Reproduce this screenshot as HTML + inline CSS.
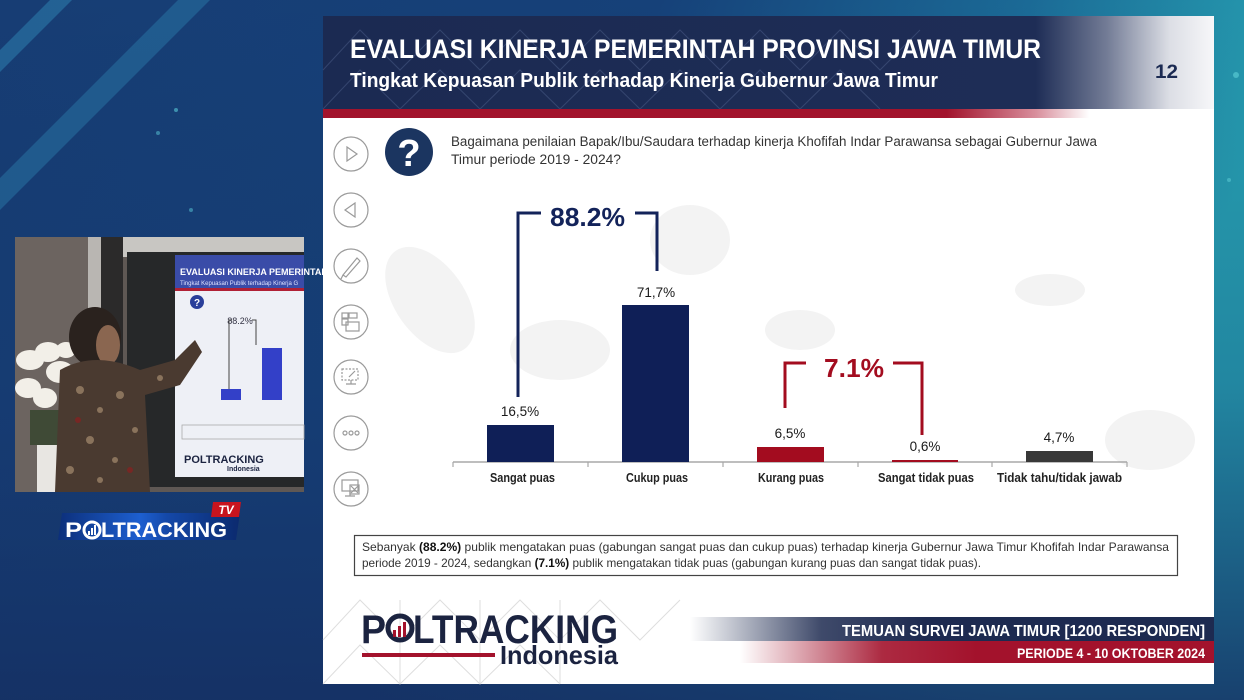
<!DOCTYPE html>
<html><head><meta charset="utf-8">
<style>
html,body{margin:0;padding:0;background:#163b72;}
svg{display:block;}
text{font-family:"Liberation Sans",sans-serif;}
</style></head>
<body>
<svg width="1244" height="700" viewBox="0 0 1244 700" xmlns="http://www.w3.org/2000/svg">
<defs>
  <linearGradient id="bg" x1="0" y1="0" x2="1" y2="0.25">
    <stop offset="0" stop-color="#173d74"/>
    <stop offset="0.5" stop-color="#164179"/>
    <stop offset="0.78" stop-color="#1b6a96"/>
    <stop offset="1" stop-color="#27a2b3"/>
  </linearGradient>
  <linearGradient id="bgv" x1="0" y1="0" x2="0" y2="1">
    <stop offset="0" stop-color="#10305e" stop-opacity="0"/>
    <stop offset="0.55" stop-color="#13346a" stop-opacity="0.25"/>
    <stop offset="1" stop-color="#152f62" stop-opacity="0.85"/>
  </linearGradient>
  <linearGradient id="hdr" x1="323" y1="0" x2="1214" y2="0" gradientUnits="userSpaceOnUse">
    <stop offset="0" stop-color="#1b2a52"/>
    <stop offset="0.8" stop-color="#1e2d56"/>
    <stop offset="0.88" stop-color="#737c96"/>
    <stop offset="0.95" stop-color="#dcdee5"/>
    <stop offset="1" stop-color="#f7f7f9"/>
  </linearGradient>
  <linearGradient id="redbar" x1="323" y1="0" x2="1214" y2="0" gradientUnits="userSpaceOnUse">
    <stop offset="0" stop-color="#a2132c"/>
    <stop offset="0.7" stop-color="#a2132c"/>
    <stop offset="0.8" stop-color="#d88e9c"/>
    <stop offset="0.86" stop-color="#ffffff"/>
  </linearGradient>
  <linearGradient id="ftnavy" x1="690" y1="0" x2="1214" y2="0" gradientUnits="userSpaceOnUse">
    <stop offset="0" stop-color="#1d2a50" stop-opacity="0"/>
    <stop offset="0.25" stop-color="#1d2a50" stop-opacity="0.85"/>
    <stop offset="0.45" stop-color="#1d2a50"/>
    <stop offset="1" stop-color="#1d2a50"/>
  </linearGradient>
  <linearGradient id="ftred" x1="740" y1="0" x2="1214" y2="0" gradientUnits="userSpaceOnUse">
    <stop offset="0" stop-color="#a3122c" stop-opacity="0"/>
    <stop offset="0.3" stop-color="#a3122c" stop-opacity="0.9"/>
    <stop offset="0.5" stop-color="#a3122c"/>
    <stop offset="1" stop-color="#a3122c"/>
  </linearGradient>
  <linearGradient id="tvbox" x1="0" y1="0" x2="1" y2="0">
    <stop offset="0" stop-color="#0c2f7a"/>
    <stop offset="0.45" stop-color="#1d5fd0"/>
    <stop offset="0.6" stop-color="#1448a8"/>
    <stop offset="1" stop-color="#0b2a6e"/>
  </linearGradient>
</defs>

<!-- Background -->
<rect x="0" y="0" width="1244" height="700" fill="url(#bg)"/>
<rect x="0" y="0" width="1244" height="700" fill="url(#bgv)"/>
<polygon points="0,50 50,0 72,0 0,72" fill="#2d7fae" opacity="0.55"/>
<polygon points="0,178 178,0 210,0 0,210" fill="#2d7fae" opacity="0.45"/>
<circle cx="176" cy="110" r="2" fill="#4fb3c8" opacity="0.7"/>
<circle cx="158" cy="133" r="2" fill="#4fb3c8" opacity="0.6"/>
<circle cx="191" cy="210" r="2" fill="#4fb3c8" opacity="0.6"/>
<circle cx="1236" cy="75" r="3" fill="#5fd0d8" opacity="0.6"/>
<circle cx="1229" cy="180" r="2" fill="#5fd0d8" opacity="0.5"/>

<!-- Slide -->
<rect x="323" y="16" width="891" height="668" fill="#ffffff"/>
<!-- faint map -->
<g fill="#f3f3f3">
  <ellipse cx="430" cy="300" rx="35" ry="60" transform="rotate(-35 430 300)"/>
  <ellipse cx="560" cy="350" rx="50" ry="30"/>
  <ellipse cx="690" cy="240" rx="40" ry="35"/>
  <ellipse cx="800" cy="330" rx="35" ry="20"/>
  <ellipse cx="1150" cy="440" rx="45" ry="30"/>
  <ellipse cx="1050" cy="290" rx="35" ry="16"/>
</g>

<!-- Header -->
<rect x="323" y="16" width="891" height="93" fill="url(#hdr)"/>
<g stroke="#4d5f8a" stroke-width="1" fill="none" opacity="0.5">
  <polyline points="323,70 360,30 400,70 440,30 480,70 520,30 560,70 600,30 640,70 680,30 720,70 760,30 800,70 840,30 880,70 920,30"/>
  <polyline points="323,109 360,70 400,109 440,70 480,109 520,70 560,109 600,70 640,109 680,70 720,109 760,70 800,109 840,70 880,109"/>
</g>
<text x="350" y="58" font-size="27" font-weight="bold" fill="#ffffff" textLength="691" lengthAdjust="spacingAndGlyphs">EVALUASI KINERJA PEMERINTAH PROVINSI JAWA TIMUR</text>
<text x="350" y="87" font-size="20" font-weight="bold" fill="#ffffff" textLength="588" lengthAdjust="spacingAndGlyphs">Tingkat Kepuasan Publik terhadap Kinerja Gubernur Jawa Timur</text>
<text x="1155" y="78" font-size="19" font-weight="bold" fill="#1b2a52" textLength="23" lengthAdjust="spacingAndGlyphs">12</text>
<rect x="323" y="109" width="891" height="9" fill="url(#redbar)"/>

<!-- side icons -->
<g fill="none" stroke="#9a9a9a" stroke-width="1.2">
  <circle cx="351" cy="154" r="17"/>
  <circle cx="351" cy="210" r="17"/>
  <circle cx="351" cy="266" r="17"/>
  <circle cx="351" cy="322" r="17"/>
  <circle cx="351" cy="377" r="17"/>
  <circle cx="351" cy="433" r="17"/>
  <circle cx="351" cy="489" r="17"/>
  <polygon points="347,147 357,154 347,161"/>
  <polygon points="355,203 345,210 355,217"/>
  <path d="M343,275 L357,258 L360,261 L346,277 Z M343,275 L341,279"/>
  <rect x="342" y="313" width="6" height="5"/><rect x="349" y="313" width="8" height="5"/><rect x="342" y="319" width="6" height="6"/><rect x="346" y="322" width="13" height="9"/>
  <rect x="342" y="369" width="16" height="11" stroke-dasharray="2 1.5"/><path d="M346,384 h10 M351,380 v4 M349,377 l6,-6"/>
  <circle cx="345" cy="433" r="2"/><circle cx="351" cy="433" r="2"/><circle cx="357" cy="433" r="2"/>
  <rect x="342" y="480" width="16" height="11"/><path d="M350,491 v5 M345,496 h10"/><rect x="350" y="485" width="9" height="9"/><path d="M351,486 l7,7 M358,486 l-7,7"/>
</g>

<!-- question icon -->
<circle cx="409" cy="152" r="24" fill="#1b3560"/>
<text x="409" y="166" font-size="38" font-weight="bold" fill="#ffffff" text-anchor="middle">?</text>
<text x="451" y="146" font-size="13.5" fill="#333333" textLength="646" lengthAdjust="spacingAndGlyphs">Bagaimana penilaian Bapak/Ibu/Saudara terhadap kinerja Khofifah Indar Parawansa sebagai Gubernur Jawa</text>
<text x="451" y="164" font-size="13.5" fill="#333333" textLength="170" lengthAdjust="spacingAndGlyphs">Timur  periode 2019 - 2024?</text>

<!-- Chart -->
<line x1="453" y1="462" x2="1127" y2="462" stroke="#a8a8a8" stroke-width="1.5"/>
<g stroke="#a8a8a8" stroke-width="1.2">
  <line x1="453" y1="462" x2="453" y2="467"/>
  <line x1="588" y1="462" x2="588" y2="467"/>
  <line x1="723" y1="462" x2="723" y2="467"/>
  <line x1="858" y1="462" x2="858" y2="467"/>
  <line x1="992" y1="462" x2="992" y2="467"/>
  <line x1="1127" y1="462" x2="1127" y2="467"/>
</g>
<rect x="487" y="425" width="67" height="37" fill="#0f1f57"/>
<rect x="622" y="305" width="67" height="157" fill="#0f1f57"/>
<rect x="757" y="447" width="67" height="15" fill="#a30c1f"/>
<rect x="892" y="460" width="66" height="2" fill="#a30c1f"/>
<rect x="1026" y="451" width="67" height="11" fill="#383838"/>

<g font-size="13.5" fill="#1a1a1a" text-anchor="middle">
  <text x="520" y="416">16,5%</text>
  <text x="656" y="297">71,7%</text>
  <text x="790" y="438">6,5%</text>
  <text x="925" y="451">0,6%</text>
  <text x="1059" y="442">4,7%</text>
</g>
<g font-size="12.5" font-weight="bold" fill="#222222">
  <text x="490" y="482" textLength="65" lengthAdjust="spacingAndGlyphs">Sangat puas</text>
  <text x="626" y="482" textLength="62" lengthAdjust="spacingAndGlyphs">Cukup puas</text>
  <text x="758" y="482" textLength="66" lengthAdjust="spacingAndGlyphs">Kurang puas</text>
  <text x="878" y="482" textLength="96" lengthAdjust="spacingAndGlyphs">Sangat tidak puas</text>
  <text x="997" y="482" textLength="125" lengthAdjust="spacingAndGlyphs">Tidak tahu/tidak jawab</text>
</g>

<!-- 88.2% bracket -->
<polyline points="518,397 518,213 541,213" fill="none" stroke="#13235a" stroke-width="3"/>
<polyline points="635,213 657,213 657,271" fill="none" stroke="#13235a" stroke-width="3"/>
<text x="550" y="226" font-size="26" font-weight="bold" fill="#13235a" textLength="75" lengthAdjust="spacingAndGlyphs">88.2%</text>

<!-- 7.1% bracket -->
<polyline points="785,408 785,363 806,363" fill="none" stroke="#a30c1f" stroke-width="3"/>
<polyline points="893,363 922,363 922,435" fill="none" stroke="#a30c1f" stroke-width="3"/>
<text x="824" y="377" font-size="26" font-weight="bold" fill="#a30c1f" textLength="60" lengthAdjust="spacingAndGlyphs">7.1%</text>

<!-- Text box -->
<rect x="354.5" y="535.5" width="823" height="40" fill="#ffffff" stroke="#444" stroke-width="1.2"/>
<text x="362" y="551" font-size="12" fill="#333" textLength="807" lengthAdjust="spacingAndGlyphs">Sebanyak <tspan font-weight="bold" fill="#111">(88.2%)</tspan> publik mengatakan puas (gabungan sangat puas dan cukup puas) terhadap kinerja Gubernur Jawa Timur Khofifah Indar Parawansa</text>
<text x="362" y="567" font-size="12" fill="#333" textLength="619" lengthAdjust="spacingAndGlyphs">periode 2019 - 2024, sedangkan <tspan font-weight="bold" fill="#111">(7.1%)</tspan> publik mengatakan tidak puas (gabungan kurang puas dan sangat tidak puas).</text>

<!-- footer hex lines -->
<g stroke="#d6d6d6" stroke-width="1" fill="none" opacity="0.8">
  <polyline points="323,640 360,600 400,640 440,600 480,640 520,600 560,640 600,600 640,640 680,600"/>
  <polyline points="323,684 360,645 400,684 440,645 480,684 520,645 560,684"/>
  <line x1="400" y1="600" x2="400" y2="684"/>
  <line x1="480" y1="600" x2="480" y2="684"/>
  <line x1="560" y1="600" x2="560" y2="684"/>
</g>

<!-- Poltracking logo -->
<text x="361" y="643" font-size="40" font-weight="bold" fill="#1b2340" textLength="25" lengthAdjust="spacingAndGlyphs">P</text>
<circle cx="400" cy="628" r="12" fill="none" stroke="#1b2340" stroke-width="5"/>
<rect x="393" y="630" width="3" height="7" fill="#a3122c"/>
<rect x="398" y="626" width="3" height="11" fill="#a3122c"/>
<rect x="403" y="622" width="3" height="15" fill="#a3122c"/>
<text x="413" y="643" font-size="40" font-weight="bold" fill="#1b2340" textLength="205" lengthAdjust="spacingAndGlyphs">LTRACKING</text>
<rect x="362" y="653" width="133" height="4" fill="#a3122c"/>
<text x="500" y="664" font-size="26" font-weight="bold" fill="#1b2340" textLength="118" lengthAdjust="spacingAndGlyphs">Indonesia</text>

<!-- Footer bands -->
<rect x="690" y="617" width="524" height="24" fill="url(#ftnavy)"/>
<rect x="740" y="641" width="474" height="22" fill="url(#ftred)"/>
<text x="842" y="636" font-size="16" font-weight="bold" fill="#ffffff" textLength="363" lengthAdjust="spacingAndGlyphs">TEMUAN SURVEI JAWA TIMUR [1200 RESPONDEN]</text>
<text x="1017" y="658" font-size="14" font-weight="bold" fill="#ffffff" textLength="188" lengthAdjust="spacingAndGlyphs">PERIODE 4 - 10 OKTOBER 2024</text>

<!-- Left video -->
<g>
  <rect x="15" y="237" width="289" height="255" fill="#5f5854"/>
  <rect x="15" y="237" width="75" height="255" fill="#6c6460"/>
  <rect x="88" y="237" width="13" height="255" fill="#b9b6b2"/>
  <rect x="101" y="237" width="22" height="255" fill="#2b2a2a"/>
  <rect x="123" y="237" width="181" height="20" fill="#c8c6c2"/>
  <rect x="127" y="252" width="177" height="235" fill="#262829"/>
  <rect x="175" y="255" width="129" height="222" fill="#eef0f6"/>
  <rect x="175" y="255" width="129" height="35" fill="#3a4ca8"/>
  <rect x="175" y="288" width="129" height="3" fill="#b02035"/>
  <text x="180" y="275" font-size="9" font-weight="bold" fill="#ffffff">EVALUASI KINERJA PEMERINTAH</text>
  <text x="180" y="285" font-size="6" fill="#dfe3ff">Tingkat Kepuasan Publik terhadap Kinerja G</text>
  <circle cx="197" cy="302" r="7" fill="#2a3f9a"/>
  <text x="197" y="306" font-size="10" font-weight="bold" fill="#fff" text-anchor="middle">?</text>
  <text x="240" y="324" font-size="9" fill="#334" text-anchor="middle">88.2%</text>
  <polyline points="229,392 229,320 232,320" fill="none" stroke="#444" stroke-width="1"/>
  <polyline points="252,320 256,320 256,345" fill="none" stroke="#444" stroke-width="1"/>
  <rect x="221" y="389" width="20" height="11" fill="#3340c8"/>
  <rect x="262" y="348" width="20" height="52" fill="#3340c8"/>
  <rect x="182" y="425" width="122" height="14" fill="none" stroke="#aaa" stroke-width="0.8"/>
  <text x="184" y="463" font-size="11" font-weight="bold" fill="#1b2340">POLTRACKING</text>
  <text x="227" y="471" font-size="7" font-weight="bold" fill="#1b2340">Indonesia</text>
  <!-- orchids -->
  <g fill="#f2efe8">
    <ellipse cx="30" cy="360" rx="14" ry="10"/>
    <ellipse cx="48" cy="352" rx="13" ry="10"/>
    <ellipse cx="60" cy="372" rx="14" ry="11"/>
    <ellipse cx="28" cy="388" rx="13" ry="10"/>
    <ellipse cx="45" cy="398" rx="12" ry="10"/>
    <ellipse cx="66" cy="350" rx="10" ry="8"/>
  </g>
  <rect x="37" y="445" width="30" height="47" fill="#e8e6e2"/>
  <rect x="30" y="410" width="30" height="35" fill="#3f4a36"/>
  <!-- man -->
  <ellipse cx="95" cy="337" rx="26" ry="30" fill="#2a221e"/>
  <ellipse cx="108" cy="345" rx="12" ry="20" fill="#8a6650"/>
  <path d="M60,370 Q95,350 140,370 L175,360 L195,340 L202,352 L180,385 L145,395 L150,492 L55,492 Z" fill="#4a3a30"/>
  <g fill="#b59a7a" opacity="0.6">
    <circle cx="80" cy="390" r="4"/><circle cx="100" cy="410" r="3"/><circle cx="120" cy="395" r="4"/>
    <circle cx="90" cy="440" r="4"/><circle cx="115" cy="460" r="3"/><circle cx="70" cy="470" r="4"/>
    <circle cx="160" cy="378" r="3"/><circle cx="135" cy="430" r="3"/><circle cx="100" cy="480" r="3"/>
  </g>
  <circle cx="78" cy="420" r="3" fill="#8a2020" opacity="0.7"/>
  <circle cx="130" cy="470" r="3" fill="#8a2020" opacity="0.7"/>
</g>

<!-- Poltracking TV logo -->
<polygon points="62,513 240,513 236,540 58,540" fill="url(#tvbox)"/>
<polygon points="213,502 241,502 239,517 211,517" fill="#c8141e"/>
<text x="226" y="514" font-size="12" font-weight="bold" font-style="italic" fill="#ffffff" text-anchor="middle">TV</text>
<text x="65" y="537" font-size="21" font-weight="bold" fill="#ffffff" textLength="17" lengthAdjust="spacingAndGlyphs">P</text>
<circle cx="92" cy="530" r="8" fill="none" stroke="#ffffff" stroke-width="3"/>
<rect x="88" y="531" width="2" height="4" fill="#fff"/><rect x="91" y="528" width="2" height="7" fill="#fff"/><rect x="94" y="525" width="2" height="10" fill="#fff"/>
<text x="101" y="537" font-size="21" font-weight="bold" fill="#ffffff" textLength="126" lengthAdjust="spacingAndGlyphs">LTRACKING</text>
</svg>
</body></html>
